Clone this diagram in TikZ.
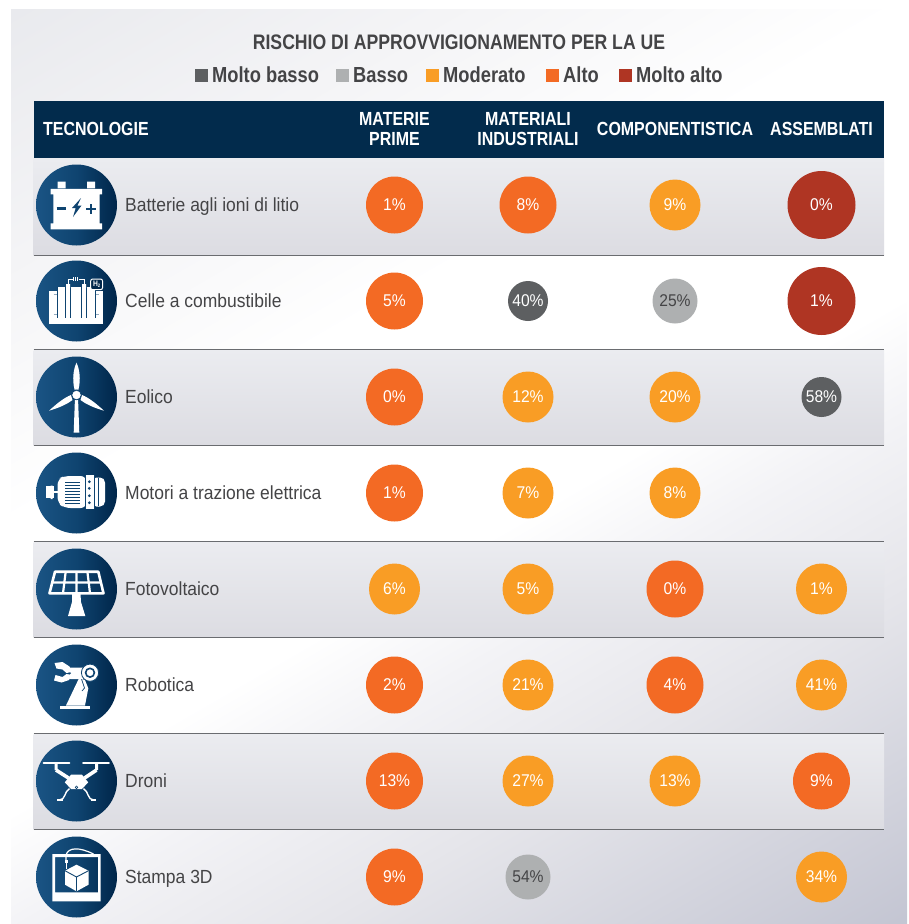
\documentclass[tikz,border=0pt]{standalone}
\usepackage{fontspec}
\setmainfont[FakeStretch=0.84]{Liberation Sans}
\newfontfamily\bodyfont[FakeStretch=0.92]{Liberation Sans}
\definecolor{navy}{HTML}{022B4C}
\definecolor{txt}{HTML}{444446}
\definecolor{vlow}{HTML}{5D5F61}
\definecolor{low}{HTML}{AEB0B1}
\definecolor{mod}{HTML}{F99D25}
\definecolor{high}{HTML}{F36A24}
\definecolor{vhigh}{HTML}{AF3523}
\definecolor{rowa}{HTML}{EBECF0}
\definecolor{rowb}{HTML}{DCDCE2}
\definecolor{rulec}{HTML}{6A6C70}
\definecolor{icl}{HTML}{1A5484}
\definecolor{icm}{HTML}{0F4470}
\definecolor{icr}{HTML}{00264A}
\pgfdeclareverticalshading{panelfade}{100bp}{
 rgb(0bp)=(0.769,0.776,0.827);
 rgb(30.7bp)=(0.769,0.776,0.827);
 rgb(39.5bp)=(0.898,0.898,0.918);
 rgb(44.4bp)=(0.953,0.953,0.965);
 rgb(47.6bp)=(1,1,1);
 rgb(55.5bp)=(1,1,1);
 rgb(62.6bp)=(0.957,0.957,0.965);
 rgb(69.4bp)=(0.914,0.918,0.933);
 rgb(100bp)=(0.914,0.918,0.933)}
\tikzset{
 x=1pt,y=-1pt,
 bub/.style={circle,inner sep=0pt,minimum size=#1*2pt,font=\bodyfont\fontsize{17}{19}\selectfont},
 icon/.style={circle,inner sep=0pt,minimum size=81pt,left color=icl,right color=icr,middle color=icm},
 rowlabel/.style={anchor=base west,text=txt,inner sep=0pt,font=\bodyfont\fontsize{19}{21}\selectfont},
 head/.style={text=white,align=center,inner sep=0pt,font=\bfseries\fontsize{19}{19.5}\selectfont},
 legtext/.style={anchor=base west,text=txt,inner sep=0pt,font=\bfseries\fontsize{21.8}{23}\selectfont},
 legbox/.style={anchor=west,inner sep=0pt,minimum size=13pt},
 band/.style={top color=rowa,bottom color=rowb,draw=none},
 ruleline/.style={draw=rulec,line width=1.3pt},
 wl/.style={draw=white,line width=#1pt},
 nl/.style={draw=icm,line width=#1pt}
}
\begin{document}
\begin{tikzpicture}
\useasboundingbox (0,0) rectangle (909,924);
\begin{scope}
\clip (11,9) rectangle (907,924);
\shade[shading=panelfade,shading angle=30] (-341,-333.5) rectangle (1259,1266.5);
\end{scope}
\node[text=txt,inner sep=0pt,font=\bfseries\fontsize{21}{23}\selectfont] (title) at (459,42.5) {RISCHIO DI APPROVVIGIONAMENTO PER LA UE};
\node[legbox,fill=vlow] (l1) at (195,75) {};
\node[legtext] (lt1) at (212,82) {Molto basso};
\node[legbox,fill=low] (l2) at (336,75) {};
\node[legtext] (lt2) at (353,82) {Basso};
\node[legbox,fill=mod] (l3) at (426,75) {};
\node[legtext] (lt3) at (443,82) {Moderato};
\node[legbox,fill=high] (l4) at (546,75) {};
\node[legtext] (lt4) at (563,82) {Alto};
\node[legbox,fill=vhigh] (l5) at (619,75) {};
\node[legtext] (lt5) at (636,82) {Molto alto};
\fill[navy] (34,101) rectangle (884,158);
\node[head,anchor=west] (h0) at (43,128.5) {TECNOLOGIE};
\node[head] (h1) at (394.5,129) {MATERIE\\PRIME};
\node[head] (h2) at (528,129) {MATERIALI\\INDUSTRIALI};
\node[head] (h3) at (675,128.5) {COMPONENTISTICA};
\node[head] (h4) at (821.5,128.5) {ASSEMBLATI};
\shade[band] (33.5,158) rectangle (884,255);
\shade[band] (33.5,350) rectangle (884,445);
\shade[band] (33.5,542) rectangle (884,637);
\shade[band] (33.5,734) rectangle (884,829);
\foreach \yy in {255.5,349.5,445.5,541.5,637.5,733.5,829.5}{\draw[ruleline] (33.5,\yy) -- (884,\yy);}
\foreach \yy/\nm/\tx in {205/a/Batterie agli ioni di litio,301/b/Celle a combustibile,397/c/Eolico,493/d/Motori a trazione elettrica,589/e/Fotovoltaico,685/f/Robotica,781/g/Droni,877/h/Stampa 3D}{
 \node[icon] (ic\nm) at (76.5,\yy) {};
 \node[rowlabel] (lab\nm) at (125,\yy+6) {\tx};
}
\foreach \cx/\cn/\yy/\rn/\rr/\cc/\tc/\tx in {
394.5/1/205/a/28.5/high/white/1\%,528/2/205/a/28.5/high/white/8\%,675/3/205/a/25.5/mod/white/9\%,821.5/4/205/a/34/vhigh/white/0\%,
394.5/1/301/b/28.5/high/white/5\%,528/2/301/b/20/vlow/white/40\%,675/3/301/b/22.5/low/txt/25\%,821.5/4/301/b/34/vhigh/white/1\%,
394.5/1/397/c/28.5/high/white/0\%,528/2/397/c/25.5/mod/white/12\%,675/3/397/c/25.5/mod/white/20\%,821.5/4/397/c/20/vlow/white/58\%,
394.5/1/493/d/28.5/high/white/1\%,528/2/493/d/25.5/mod/white/7\%,675/3/493/d/25.5/mod/white/8\%,
394.5/1/589/e/25.5/mod/white/6\%,528/2/589/e/25.5/mod/white/5\%,675/3/589/e/28.5/high/white/0\%,821.5/4/589/e/25.5/mod/white/1\%,
394.5/1/685/f/28.5/high/white/2\%,528/2/685/f/25.5/mod/white/21\%,675/3/685/f/28.5/high/white/4\%,821.5/4/685/f/25.5/mod/white/41\%,
394.5/1/781/g/28.5/high/white/13\%,528/2/781/g/25.5/mod/white/27\%,675/3/781/g/25.5/mod/white/13\%,821.5/4/781/g/28.5/high/white/9\%,
394.5/1/877/h/28.5/high/white/9\%,528/2/877/h/22.5/low/txt/54\%,821.5/4/877/h/25.5/mod/white/34\%}{
 \node[bub=\rr,fill=\cc,text=\tc] (c\rn\cn) at (\cx,\yy) {\tx};
}
% battery
\begin{scope}[shift={(ica.center)}]
\fill[white] (-18.8,-23.3) rectangle (-10.8,-16.7) (10.5,-23.3) rectangle (18.5,-16.7);
\fill[white] (-25.8,-16.2) rectangle (25.5,-10.7) (-23.2,-10.7) rectangle (23.2,18.3) (-25.8,18.3) rectangle (25.5,24.3);
\draw[nl=2.2] (-20,3.5) -- (-10.8,3.5) (9.8,4) -- (19.8,4) (14.8,-1) -- (14.8,9);
\fill[icm] (4.5,-7) -- (-4.5,3) -- (-0.8,3) -- (-3.5,12) -- (5,0.5) -- (1,0.5) -- cycle;
\end{scope}
% fuel cell
\begin{scope}[shift={(icb.center)}]
\fill[white] (-27.5,-10) rectangle (26.5,22.5);
\draw[draw=icm!45,line width=.7pt] (-23,-7) -- (-19,-7) (-23,13) -- (-19,13) (18.5,-7) -- (22.5,-7) (18.5,13) -- (22.5,13);
\fill[white] (-19,-14) rectangle (18.5,17.5);
\draw[nl=1] (-19,-14) -- (-19,17) (-11,-14) -- (-11,17) (-6,-14) -- (-6,17) (5,-14) -- (5,17) (10,-14) -- (10,17) (18.5,-14) -- (18.5,17);
\fill[white] (-10.5,-17) rectangle (-6.5,-13) (5.5,-17) rectangle (9.5,-13);
\draw[wl=.6] (-8.5,-17) -- (-8.5,-22) -- (-3,-22) (2,-22) -- (7.5,-22) -- (7.5,-17) (-3,-24) -- (-3,-20) (-1,-24) -- (-1,-20) (1,-24) -- (1,-20);
\draw[wl=1,fill=icr,rounded corners=2pt] (14.2,-22) rectangle (26,-11.3);
\node[text=white,inner sep=0pt,font=\bfseries\fontsize{8}{8}\selectfont] (hh) at (20.1,-16.6) {H\raisebox{-1pt}{\fontsize{5}{5}\selectfont 2}};
\end{scope}
% wind turbine
\begin{scope}[shift={(icc.center)}]
\fill[white] (-2.8,35.7) -- (2.8,35.7) -- (1.6,3) -- (-1.6,3) -- cycle;
\fill[white] (0,-34.3) .. controls (-3,-28) and (-4.5,-18) .. (-2,-7.5) -- (2,-7.5) .. controls (4.5,-18) and (3,-28) .. (0,-34.3) -- cycle;
\fill[white] (-27.5,13.7) .. controls (-20,7) and (-13,1) .. (-5.5,-2) -- (-4,3) .. controls (-10,7.5) and (-18,11) .. (-27.5,13.7) -- cycle;
\fill[white] (27.5,13.7) .. controls (20,7) and (13,1) .. (5.5,-2) -- (4,3) .. controls (10,7.5) and (18,11) .. (27.5,13.7) -- cycle;
\draw[nl=.8,fill=white] (0,-2) circle (4.8);
\end{scope}
% motor
\begin{scope}[shift={(icd.center)}]
\fill[white] (-30.5,-7) rectangle (-23,5.3);
\fill[white] (-26,-7.5) rectangle (-24,-6) (-26,4.5) rectangle (-24,6);
\draw[wl=1.3] (-23,-1) -- (-18,-1);
\fill[white,rounded corners=6pt] (-19,-14) -- (-12,-17) -- (10,-17) -- (10,15) -- (-12,15) -- (-19,10) -- cycle;
\fill[white] (8,-18) rectangle (18,15.5);
\fill[white,rounded corners=5pt] (15,-15.5) rectangle (28.5,13.5);
\foreach \k in {0,1,...,7}{\draw[nl=1.2] (-11.5,-10.5+\k*3) -- (3.5,-10.5+\k*3);}
\draw[nl=.8] (8.5,-18) -- (8.5,15.5) (17.5,-18) -- (17.5,15.5) (21.8,-15) -- (21.8,13);
\foreach \k in {-11.3,-4.7,2.7,9.7}{\fill[icm] (12.8,\k) circle (1.5);}
\end{scope}
% solar panel
\begin{scope}[shift={(ice.center)}]
\draw[wl=2.6,line join=round] (-21.5,-17.3) -- (21.8,-17.3) -- (27,4.3) -- (-27,4.3) -- cycle;
\draw[wl=2.2] (-24.2,-6.5) -- (24.4,-6.5) (-10.8,-17.3) -- (-13.5,4.3) (0.1,-17.3) -- (0,4.3) (10.9,-17.3) -- (13.5,4.3);
\fill[white] (-4.5,5) -- (4,5) -- (4.5,13) -- (8.8,27) -- (-8.5,27) -- (-4.5,13) -- cycle;
\end{scope}
% robot
\begin{scope}[shift={(icf.center)}]
\fill[white] (-17,21) rectangle (13,24);
\fill[white] (-10.5,20.5) -- (2.5,-6.7) -- (8.5,-5) -- (11.8,3.3) -- (8.5,20.5) -- cycle;
\draw[nl=.7] (5,-6) -- (8,3) -- (5.5,6);
\fill[white,rounded corners=2pt] (-8,-17.5) rectangle (13,-6);
\draw[nl=.8,fill=white] (13.5,-12.3) circle (8.6);
\draw[nl=1.6,fill=white] (13.5,-12.3) circle (4.4);
\fill[icm] (-7.3,-12) circle (1.8);
\fill[white] (-22,-22) -- (-14,-23) -- (-7,-18.5) -- (-5,-13) -- (-10,-12) -- (-14,-15.5) -- (-20,-16.5) -- cycle;
\fill[white] (-22.5,-4.5) -- (-15,-2.5) -- (-7.5,-5) -- (-5,-10) -- (-10,-11) -- (-14,-8) -- (-21,-10) -- cycle;
\end{scope}
% drone
\begin{scope}[shift={(icg.center)}]
\draw[wl=1.8,line cap=round] (-33,-17.7) -- (-7,-17.7) (6.5,-17.7) -- (32.5,-17.7);
\fill[white] (-22,-17.7) rectangle (-19,-11) (18.5,-17.7) rectangle (21.5,-11);
\draw[wl=3.6] (-20.5,-11) -- (-8,-3) (20,-11) -- (8,-3);
\fill[white] (-5.5,-6.3) -- (5.5,-6.3) -- (11.7,1.3) -- (5.5,8) -- (-5.5,8) -- (-11.7,1.3) -- cycle;
\draw[nl=.6,fill=white] (0,6.3) circle (1.3);
\draw[wl=1.4] (-7,7.5) .. controls (-12,10) and (-11,19) .. (-17,19) (7,7.5) .. controls (12,10) and (11,19) .. (17,19);
\draw[wl=1.4] (-19.5,19) -- (-14,19) (14,19) -- (19.5,19);
\end{scope}
% 3D printer
\begin{scope}[shift={(ich.center)}]
\fill[white,even odd rule] (-24.2,-23) rectangle (24.2,24.3) (-21.5,-20) rectangle (21.5,15.3);
\draw[wl=1.2] (-10.5,-17) -- (-10.5,-22) .. controls (-8,-30) and (3,-30) .. (17,-23);
\fill[white] (-12,-17) rectangle (-9,-14);
\draw[wl=.8] (-10.5,-14) -- (-10.5,-8);
\fill[white] (0,-12.3) -- (12,-6.3) -- (12,7.7) -- (0,14.3) -- (-11.5,7.7) -- (-11.5,-6.3) -- cycle;
\draw[nl=.9] (-11.5,-6.3) -- (0,0) -- (12,-6.3) (0,0) -- (0,14.3);
\end{scope}
\end{tikzpicture}
\end{document}
